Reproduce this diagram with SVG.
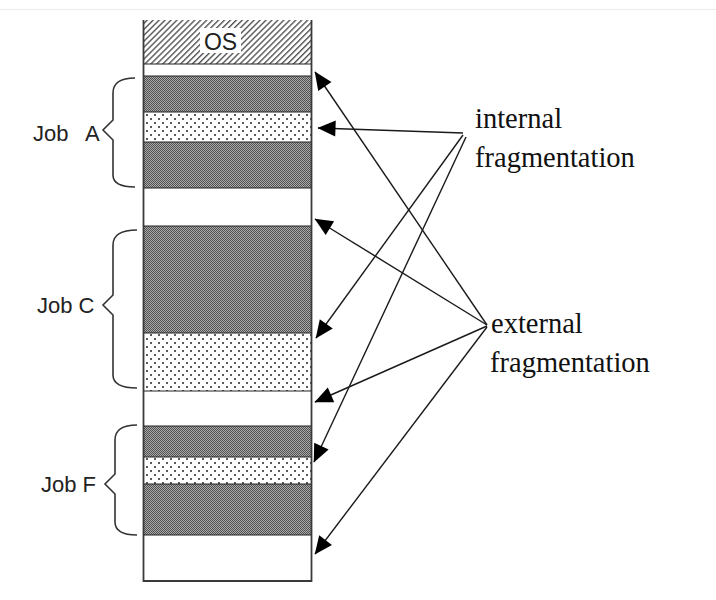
<svg xmlns="http://www.w3.org/2000/svg" width="716" height="600" viewBox="0 0 716 600">
  <style>
    .lbl { font-family: "Liberation Sans", Arial, sans-serif; font-size: 22px; fill: #222; }
    .frag { font-family: "Liberation Serif", "Times New Roman", serif; font-size: 28.5px; fill: #111; }
    .brace { fill: none; stroke: #333; stroke-width: 1.6; }
    .conn { fill: none; stroke: #1a1a1a; stroke-width: 1.4; }
    .edge { stroke: #222; stroke-width: 1.2; }
  </style>
  <defs>
    <pattern id="dark" width="2" height="2" patternUnits="userSpaceOnUse">
      <rect width="2" height="2" fill="#ababab"/>
      <rect x="0" y="0" width="1" height="1" fill="#505050"/>
      <rect x="1" y="1" width="1" height="1" fill="#505050"/>
    </pattern>
    <pattern id="dots" width="8" height="8" patternUnits="userSpaceOnUse">
      <rect width="8" height="8" fill="#ffffff"/>
      <rect x="2" y="2" width="2" height="2" fill="#5a5a5a"/>
      <rect x="6" y="6" width="2" height="2" fill="#5a5a5a"/>
    </pattern>
    <pattern id="hatch" width="4.2" height="10" patternUnits="userSpaceOnUse" patternTransform="rotate(45)">
      <rect width="4.2" height="10" fill="#ffffff"/>
      <rect x="0" y="0" width="1.4" height="10" fill="#555"/>
    </pattern>
    <marker id="ah" markerUnits="userSpaceOnUse" viewBox="0 0 18 16" markerWidth="18" markerHeight="16" refX="17.5" refY="8" orient="auto" overflow="visible">
      <path d="M0,0 L18,8 L0,16 z" fill="#000"/>
    </marker>
  </defs>

  <rect width="716" height="600" fill="#ffffff"/>
  <line x1="0" y1="9.5" x2="716" y2="9.5" stroke="#ececec" stroke-width="1"/>

  <g id="memory">
    <rect x="143.5" y="20" width="168" height="44" fill="url(#hatch)"/>
    <rect x="200" y="28" width="41" height="25" fill="#ffffff"/>
    <text class="lbl" x="220.5" y="50" text-anchor="middle" style="font-size:23px" fill="#333">OS</text>
    <rect x="143.5" y="64" width="168" height="12" fill="#ffffff"/>
    <rect x="143.5" y="76" width="168" height="36" fill="url(#dark)"/>
    <rect x="143.5" y="112" width="168" height="30" fill="url(#dots)"/>
    <rect x="143.5" y="142" width="168" height="46" fill="url(#dark)"/>
    <rect x="143.5" y="188" width="168" height="38" fill="#ffffff"/>
    <rect x="143.5" y="226" width="168" height="107" fill="url(#dark)"/>
    <rect x="143.5" y="333" width="168" height="58" fill="url(#dots)"/>
    <rect x="143.5" y="391" width="168" height="35" fill="#ffffff"/>
    <rect x="143.5" y="426" width="168" height="31" fill="url(#dark)"/>
    <rect x="143.5" y="457" width="168" height="27" fill="url(#dots)"/>
    <rect x="143.5" y="484" width="168" height="51" fill="url(#dark)"/>
    <rect x="143.5" y="535" width="168" height="46" fill="#ffffff"/>
    <g class="edge">
      <line x1="143.5" y1="64" x2="311.5" y2="64"/>
      <line x1="143.5" y1="76" x2="311.5" y2="76"/>
      <line x1="143.5" y1="112" x2="311.5" y2="112"/>
      <line x1="143.5" y1="142" x2="311.5" y2="142"/>
      <line x1="143.5" y1="188" x2="311.5" y2="188"/>
      <line x1="143.5" y1="226" x2="311.5" y2="226"/>
      <line x1="143.5" y1="333" x2="311.5" y2="333"/>
      <line x1="143.5" y1="391" x2="311.5" y2="391"/>
      <line x1="143.5" y1="426" x2="311.5" y2="426"/>
      <line x1="143.5" y1="457" x2="311.5" y2="457"/>
      <line x1="143.5" y1="484" x2="311.5" y2="484"/>
      <line x1="143.5" y1="535" x2="311.5" y2="535"/>
    </g>
    <path d="M143.5,20 L143.5,581 L311.5,581 L311.5,20" fill="none" stroke="#3a3a3a" stroke-width="1.8"/>
  </g>

  <g id="jobA">
    <path class="brace" d="M135,78 C122,78 113,82 113,93 L113,120 L103,130 L113,140 L113,175 C113,184 122,187 135,187"/>
    <text class="lbl" x="33" y="141">Job <tspan x="85">A</tspan></text>
  </g>
  <g id="jobC">
    <path class="brace" d="M137,230 C122,230 113,234 113,245 L113,295 L103,305 L113,315 L113,375 C113,384 122,388 137,388"/>
    <text class="lbl" x="37" y="313">Job C</text>
  </g>
  <g id="jobF">
    <path class="brace" d="M137,425 C124,425 115,429 115,440 L115,474 L105,484 L115,494 L115,522 C115,531 124,535 137,535"/>
    <text class="lbl" x="41" y="492">Job F</text>
  </g>

  <g id="internal">
    <text class="frag" x="475" y="128">internal</text>
    <text class="frag" x="475" y="167">fragmentation</text>
  </g>
  <g id="external">
    <text class="frag" x="491" y="333">external</text>
    <text class="frag" x="490" y="372">fragmentation</text>
  </g>

  <g id="connectors">
    <line class="conn" x1="463" y1="133" x2="318" y2="128" marker-end="url(#ah)"/>
    <line class="conn" x1="463" y1="135" x2="316" y2="338" marker-end="url(#ah)"/>
    <line class="conn" x1="466" y1="137" x2="314" y2="462" marker-end="url(#ah)"/>
    <line class="conn" x1="487" y1="325" x2="315" y2="72" marker-end="url(#ah)"/>
    <line class="conn" x1="487" y1="325" x2="315" y2="219" marker-end="url(#ah)"/>
    <line class="conn" x1="487" y1="326" x2="315" y2="402" marker-end="url(#ah)"/>
    <line class="conn" x1="487" y1="327" x2="315" y2="554" marker-end="url(#ah)"/>
  </g>
</svg>
